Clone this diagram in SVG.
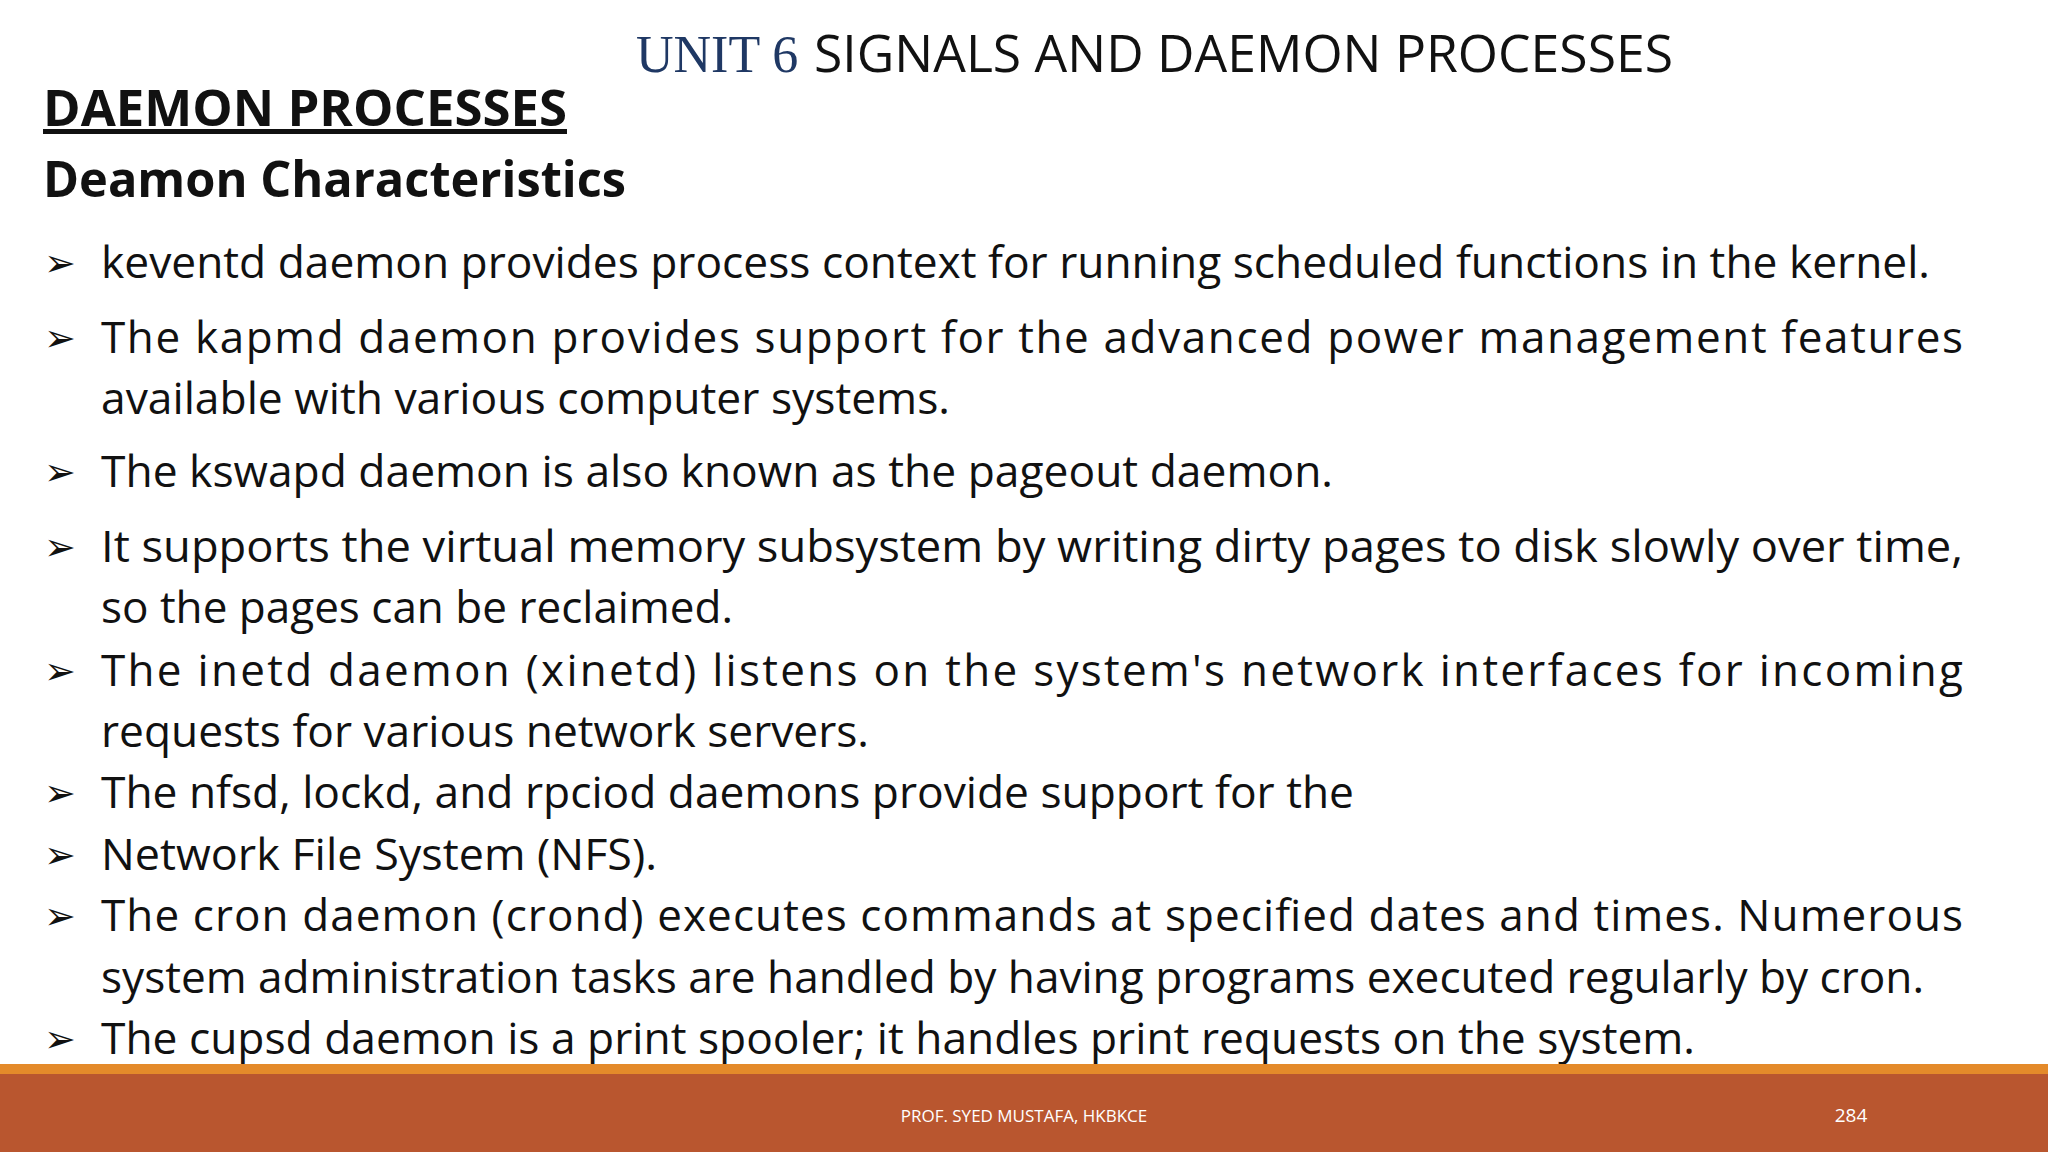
<svg xmlns="http://www.w3.org/2000/svg" width="2048" height="1152" viewBox="0 0 2048 1152">
<style>
.s{font-family:"Open Sans","Liberation Sans",sans-serif;fill:#111}
.b{font-size:44px}
.a{font-family:"DejaVu Sans",sans-serif;font-size:38px;fill:#111}
</style>
<rect width="2048" height="1152" fill="#fff"/>
<text x="636" y="72" font-family="Liberation Serif,serif" font-size="52" fill="#1F3864">UNIT 6</text>
<text class="s" x="814" y="72" font-size="52" textLength="859" lengthAdjust="spacingAndGlyphs" fill="#111">SIGNALS AND DAEMON PROCESSES</text>
<text class="s" x="43" y="126" font-size="50" font-weight="bold" text-decoration="underline" textLength="524" lengthAdjust="spacingAndGlyphs">DAEMON PROCESSES</text>
<text class="s" x="43" y="197" font-size="50" font-weight="bold" textLength="583" lengthAdjust="spacingAndGlyphs">Deamon Characteristics</text>
<g class="a">
<text x="44" y="276">➢</text><text x="44" y="351">➢</text><text x="44" y="485">➢</text><text x="44" y="560">➢</text><text x="44" y="684">➢</text><text x="44" y="806">➢</text><text x="44" y="868">➢</text><text x="44" y="929">➢</text><text x="44" y="1052">➢</text>
</g>
<g class="s b">
<text x="101" y="278" textLength="1829" lengthAdjust="spacingAndGlyphs">keventd daemon provides process context for running scheduled functions in the kernel.</text>
<text x="101" y="353" textLength="1862" lengthAdjust="spacing">The kapmd daemon provides support for the advanced power management features</text>
<text x="101" y="414" textLength="849" lengthAdjust="spacingAndGlyphs">available with various computer systems.</text>
<text x="101" y="487" textLength="1232" lengthAdjust="spacingAndGlyphs">The kswapd daemon is also known as the pageout daemon.</text>
<text x="101" y="562" textLength="1862" lengthAdjust="spacingAndGlyphs">It supports the virtual memory subsystem by writing dirty pages to disk slowly over time,</text>
<text x="101" y="623" textLength="632" lengthAdjust="spacingAndGlyphs">so the pages can be reclaimed.</text>
<text x="101" y="686" textLength="1862" lengthAdjust="spacing">The inetd daemon (xinetd) listens on the system's network interfaces for incoming</text>
<text x="101" y="747" textLength="768" lengthAdjust="spacingAndGlyphs">requests for various network servers.</text>
<text x="101" y="808" textLength="1253" lengthAdjust="spacingAndGlyphs">The nfsd, lockd, and rpciod daemons provide support for the</text>
<text x="101" y="870" textLength="556" lengthAdjust="spacingAndGlyphs">Network File System (NFS).</text>
<text x="101" y="931" textLength="1862" lengthAdjust="spacing">The cron daemon (crond) executes commands at specified dates and times. Numerous</text>
<text x="101" y="993" textLength="1823" lengthAdjust="spacingAndGlyphs">system administration tasks are handled by having programs executed regularly by cron.</text>
<text x="101" y="1054" textLength="1594" lengthAdjust="spacingAndGlyphs">The cupsd daemon is a print spooler; it handles print requests on the system.</text>
</g>
<rect x="0" y="1064" width="2048" height="10" fill="#E48A2A"/>
<rect x="0" y="1074" width="2048" height="78" fill="#B9562F"/>
<text x="1024" y="1122" text-anchor="middle" font-family="Open Sans,Liberation Sans,sans-serif" font-size="17" fill="#fff">PROF. SYED MUSTAFA, HKBKCE</text>
<text x="1851" y="1122" text-anchor="middle" font-family="Open Sans,Liberation Sans,sans-serif" font-size="19" fill="#fff">284</text>
</svg>
